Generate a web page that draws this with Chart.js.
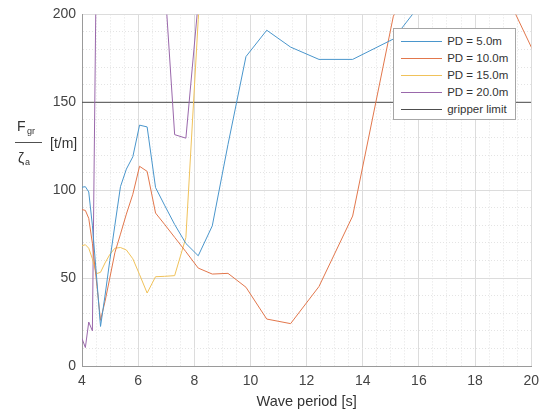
<!DOCTYPE html>
<html>
<head>
<meta charset="utf-8">
<script src="https://cdn.jsdelivr.net/npm/chart.js@4.4.1/dist/chart.umd.min.js"></script>
<style>
  body { margin: 0; background: #fff; font-family: "Liberation Sans", Arial, sans-serif; }
  #wrap { position: relative; width: 546px; height: 412px; }
  #chart { position: absolute; left: 0; top: 0; }
  .lbl { position: absolute; color: #333; white-space: nowrap; line-height: 1; }
  #legend { position: absolute; background: #fff; border: 1px solid #a6a6a6; box-sizing: border-box; }
  .row { position: absolute; left: 0; width: 100%; height: 17px; font-size: 11.5px; color: #333; }
  .row i { position: absolute; left: 7px; top: 8px; width: 41px; height: 0; border-top: 1px solid; }
  .row span { position: absolute; left: 53px; top: 2px; }
</style>
</head>
<body>
<div id="wrap">
  <canvas id="chart" width="546" height="412"></canvas>
  <span class="lbl" style="left:17px; top:119px; font-size:14px;">F</span>
  <span class="lbl" style="left:27px; top:127px; font-size:9px;">gr</span>
  <div style="position:absolute; left:15px; top:142px; width:27px; border-top:1px solid #505050;"></div>
  <span class="lbl" style="left:18px; top:151px; font-size:14px;">ζ</span>
  <span class="lbl" style="left:25px; top:158px; font-size:9px;">a</span>
  <span class="lbl" style="left:50px; top:136px; font-size:14px;">[t/m]</span>
  <div id="legend"></div>
</div>
<script>
// wave periods of the computed points [s]
var periods = [4.00, 4.12, 4.24, 4.37, 4.51, 4.66, 4.82, 4.99, 5.17, 5.37, 5.58, 5.81, 6.05, 6.32, 6.62,
  6.94, 7.30, 7.70, 8.14, 8.64, 9.20, 9.84, 10.58, 11.43, 12.44, 13.64, 15.09, 16.89, 19.18, 22.19];

// Fgr / zeta_a [t/m] per pipe depth
var pd5 = [101.7, 102, 99, 80, 52.5, 22.5, 40, 60, 80, 102, 112, 119, 137, 136, 101.5,
  91.5, 80.5, 69.7, 62.7, 79.7, 126, 176, 191, 181.4, 174.4, 174.4, 186, 223, 245, 235];
var pd10 = [89, 88.5, 84, 69.8, 49, 26, 36.7, 50, 64.4, 75, 86.4, 97.7, 113.6, 110.7, 87,
  80.6, 73.2, 65, 55.7, 52.3, 52.7, 44.8, 26.7, 24.1, 45.2, 85.3, 199, 250, 209, 108];
var pd15 = [68.4, 69, 67, 61, 52.5, 53.3, 58.6, 63.4, 67, 67.4, 66, 61, 52, 41.5, 50.8,
  51, 51.4, 73, 197, 330, 470, 590, 650, 680, 690, 680, 650, 610, 560, 520];
var pd20 = [15.6, 10.5, 25, 20, 232, 450, 560, 620, 650, 660, 640, 600, 540, 460, 360,
  220, 131.6, 129.6, 207, 300, 400, 480, 540, 580, 600, 610, 600, 580, 550, 520];

var gripperPeriods = [4, 20];
var gripperLimit = [150, 150];

var xTickLabels = [4, 6, 8, 10, 12, 14, 16, 18, 20];
var yTickLabels = [0, 50, 100, 150, 200];

function pts(xs, ys) {
  return xs.map(function(x, i) { return { x: x, y: ys[i] }; });
}

function line(label, xs, ys, color) {
  return {
    label: label,
    data: pts(xs, ys),
    borderColor: color,
    backgroundColor: color,
    borderWidth: 1,
    pointRadius: 0,
    tension: 0,
    fill: false
  };
}

var datasets = [
  line('PD = 5.0m', periods, pd5, '#4a96cc'),
  line('PD = 10.0m', periods, pd10, '#e2774c'),
  line('PD = 15.0m', periods, pd15, '#f0c25a'),
  line('PD = 20.0m', periods, pd20, '#9a68ab'),
  line('gripper limit', gripperPeriods, gripperLimit, '#4d4d4d')
];

function isMajor(list, v) {
  return list.indexOf(Math.round(v * 100) / 100) >= 0;
}

var tickFont = { family: '"Liberation Sans", Arial, sans-serif', size: 14 };

var chart = new Chart(document.getElementById('chart'), {
  type: 'line',
  data: { datasets: datasets },
  options: {
    responsive: false,
    animation: false,
    events: [],
    layout: { padding: { top: 12, right: 13, left: 0, bottom: 0 } },
    plugins: { legend: { display: false }, tooltip: { enabled: false } },
    scales: {
      x: {
        type: 'linear',
        min: 4,
        max: 20,
        afterFit: function(s) { s.height = 46; },
        ticks: {
          stepSize: 0.5,
          autoSkip: false,
          maxRotation: 0,
          padding: 7,
          color: '#444',
          font: tickFont,
          callback: function(v) { return isMajor(xTickLabels, v) ? v : ''; }
        },
        grid: {
          drawTicks: false,
          color: function(c) { return c.tick && isMajor(xTickLabels, c.tick.value) ? '#dcdcdc' : '#e4e4e4'; }
        },
        border: {
          color: '#9a9a9a',
          dash: function(c) { return c.tick && !isMajor(xTickLabels, c.tick.value) ? [1, 2] : []; }
        },
        title: {
          display: true,
          text: 'Wave period [s]',
          color: '#333',
          font: { family: '"Liberation Sans", Arial, sans-serif', size: 14.5 },
          padding: { top: 2, bottom: 1 }
        }
      },
      y: {
        min: 0,
        max: 200,
        afterFit: function(s) { s.width = 82; },
        ticks: {
          stepSize: 10,
          autoSkip: false,
          padding: 6,
          color: '#444',
          font: tickFont,
          callback: function(v) { return isMajor(yTickLabels, v) ? v : ''; }
        },
        grid: {
          drawTicks: false,
          color: function(c) { return c.tick && isMajor(yTickLabels, c.tick.value) ? '#dcdcdc' : '#e4e4e4'; }
        },
        border: {
          color: '#9a9a9a',
          dash: function(c) { return c.tick && !isMajor(yTickLabels, c.tick.value) ? [1, 2] : []; }
        }
      }
    }
  }
});

// legend box inside the plot, top right
var area = chart.chartArea;
var legend = document.getElementById('legend');
legend.style.left = (area.right - 138) + 'px';
legend.style.top = (area.top + 14) + 'px';
legend.style.width = '123px';
legend.style.height = '92px';
datasets.forEach(function(ds, i) {
  var row = document.createElement('div');
  row.className = 'row';
  row.style.top = (4 + i * 17) + 'px';
  row.innerHTML = '<i style="border-color:' + ds.borderColor + '"></i><span>' + ds.label + '</span>';
  legend.appendChild(row);
});
</script>
</body>
</html>
